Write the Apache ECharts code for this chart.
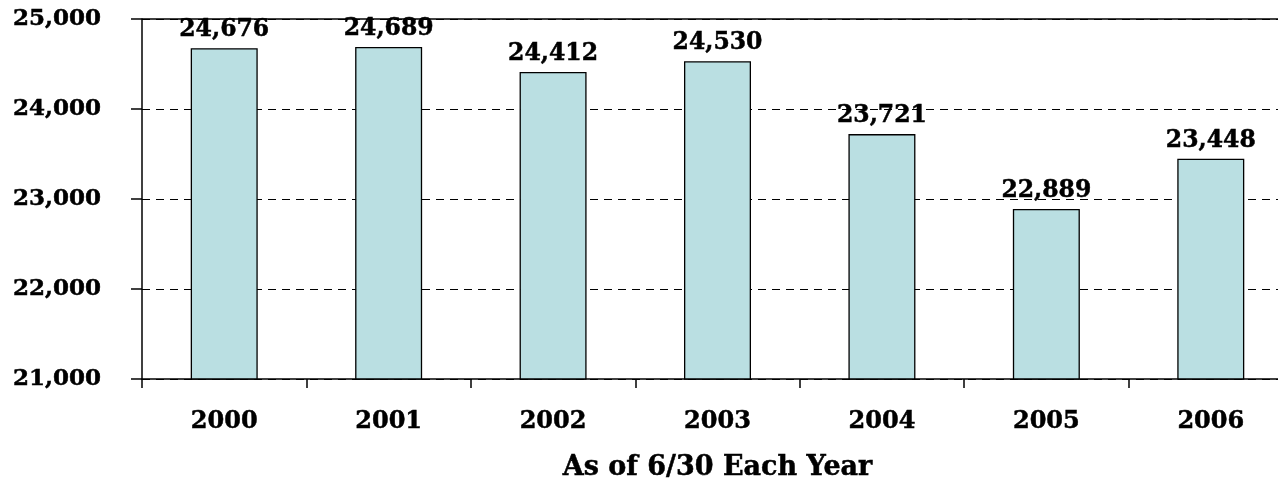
<!DOCTYPE html>
<html>
<head>
<meta charset="utf-8">
<script src="https://cdn.jsdelivr.net/npm/echarts@6/dist/echarts.min.js"></script>
<style>
html,body{margin:0;padding:0;background:#fff;}
#chart{width:1278px;height:482px;}
</style>
</head>
<body>
<div id="chart"></div>
<script>
var categories = ['2000', '2001', '2002', '2003', '2004', '2005', '2006'];
var values = [24676, 24689, 24412, 24530, 23721, 22889, 23448];
var yTicks = [21000, 22000, 23000, 24000, 25000];
var axisTitle = 'As of 6/30 Each Year';

var chart = echarts.init(document.getElementById('chart'));
var labelFont = 'DejaVu Serif';
var thick = { textBorderColor: '#000', textBorderWidth: 0.5 };
chart.setOption({
  animation: false,
  backgroundColor: '#ffffff',
  grid: { left: 142, width: 1151, top: 19, bottom: 103, containLabel: false, outerBoundsMode: 'none' },
  xAxis: {
    type: 'category',
    data: categories,
    boundaryGap: true,
    name: axisTitle,
    nameLocation: 'middle',
    nameGap: 75,
    nameTextStyle: Object.assign({ fontFamily: labelFont, fontWeight: 'bold', fontSize: 27, color: '#000' }, thick),
    axisLine: { lineStyle: { color: '#000', width: 1.5 } },
    axisTick: { show: true, length: 9, lineStyle: { color: '#000', width: 1.5 } },
    axisLabel: Object.assign({ margin: 31, fontFamily: labelFont, fontWeight: 'bold', fontSize: 24, color: '#000' }, thick)
  },
  yAxis: {
    type: 'value',
    min: yTicks[0],
    max: yTicks[yTicks.length - 1],
    interval: 1000,
    axisLine: { show: true, lineStyle: { color: '#000', width: 1.5 } },
    axisTick: { show: true, length: 11, lineStyle: { color: '#000', width: 1.5 } },
    axisLabel: Object.assign({
      margin: 41,
      fontFamily: labelFont, fontWeight: 'bold', fontSize: 23, color: '#000',
      formatter: function (v) { return v.toLocaleString('en-US'); }
    }, thick),
    splitLine: { show: true, lineStyle: { color: '#000', width: 1, type: [8, 6] } }
  },
  series: [{
    type: 'bar',
    data: values,
    barWidth: 67,
    itemStyle: { color: '#BADFE2', borderColor: '#000', borderWidth: 1.3 },
    label: Object.assign({
      show: true, position: 'top', distance: 6,
      fontFamily: labelFont, fontWeight: 'bold', fontSize: 23.5, color: '#000',
      formatter: function (p) { return p.value.toLocaleString('en-US'); }
    }, thick),
    markLine: {
      silent: true, symbol: 'none', label: { show: false },
      lineStyle: { color: '#000', width: 1.5, type: 'solid' },
      data: [{ yAxis: yTicks[yTicks.length - 1] }]
    }
  }]
});
</script>
</body>
</html>
